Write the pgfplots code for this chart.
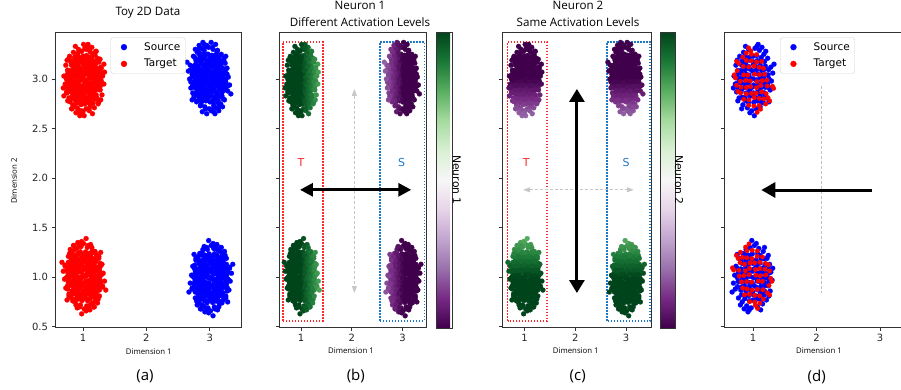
\documentclass[border=0pt]{standalone}
\usepackage{fontspec}
\setmainfont{DejaVu Sans}
\newfontfamily\os{Open Sans}
\usepackage{pgfplots}
\usepackage{pgfplotstable}
\pgfplotsset{compat=1.18}
\usetikzlibrary{arrows.meta}

\pgfplotstableread{
dx dy
0.012 -0.235
-0.008 -0.166
0.004 -0.140
-0.014 -0.082
0.009 -0.060
-0.003 0.003
0.015 0.056
-0.011 0.083
0.006 0.148
-0.006 0.178
0.001 0.231
-0.073 -0.237
-0.050 -0.175
-0.064 -0.126
-0.048 -0.102
-0.069 -0.040
-0.057 0.014
-0.066 0.039
-0.052 0.101
-0.071 0.128
-0.055 0.192
-0.062 0.220
0.068 -0.221
0.047 -0.189
0.072 -0.130
0.055 -0.079
0.063 -0.052
0.049 -0.008
0.074 0.051
0.058 0.097
0.051 0.124
0.066 0.186
0.057 0.238
-0.115 -0.219
-0.131 -0.183
-0.108 -0.142
-0.127 -0.085
-0.119 -0.049
-0.134 0.006
-0.110 0.048
-0.123 0.094
-0.129 0.141
-0.113 0.171
-0.125 0.226
0.124 -0.228
0.109 -0.172
0.133 -0.131
0.116 -0.094
0.128 -0.038
0.111 0.010
0.126 0.042
0.135 0.088
0.114 0.139
0.121 0.184
0.130 0.217
-0.176 -0.186
-0.189 -0.128
-0.171 -0.097
-0.184 -0.041
-0.193 0.004
-0.174 0.052
-0.187 0.086
-0.179 0.139
-0.170 0.183
0.185 -0.176
0.172 -0.139
0.191 -0.083
0.178 -0.047
0.169 0.008
0.188 0.044
0.176 0.097
0.194 0.130
0.181 0.177
-0.236 -0.094
-0.248 -0.041
-0.231 0.007
-0.245 0.049
-0.238 0.087
0.243 -0.086
0.231 -0.049
0.249 0.004
0.236 0.043
0.245 0.095
-0.27 0.14
-0.28 -0.05
-0.30 0.03
-0.26 -0.13
-0.25 0.19
-0.22 -0.19
-0.21 0.23
-0.16 -0.26
-0.15 0.27
-0.09 -0.29
-0.07 0.30
-0.02 -0.32
0.03 0.31
0.05 -0.30
0.10 0.29
0.11 -0.28
0.16 -0.24
0.17 0.25
0.22 -0.19
0.23 0.21
0.27 -0.11
0.28 0.12
0.29 -0.02
0.31 0.06
-0.12 0.33
0.08 0.35
0.02 -0.37
-0.05 -0.34
0.33 0.15
-0.31 -0.09
0.14 0.32
-0.18 -0.30
0.25 -0.23
0.20 0.28
-0.24 -0.22
0.06 0.33
}\offs

\definecolor{tred}{RGB}{255,40,40}
\definecolor{tblue}{RGB}{31,119,200}

\newcommand\tickf{\fontsize{10}{12}\selectfont}
\newcommand\legf{\fontsize{10.5}{12.5}\selectfont}
\newcommand\titf{\os\fontsize{11.6}{14}\selectfont}
\newcommand\labf{\os\fontsize{7.8}{9}\selectfont}
\newcommand\panf{\os\fontsize{15}{18}\selectfont}

\pgfplotsset{
  colormap={PRGn}{rgb255=(64,0,75) rgb255=(118,42,131) rgb255=(153,112,171) rgb255=(194,165,207) rgb255=(231,212,232) rgb255=(247,247,247) rgb255=(217,240,211) rgb255=(166,219,160) rgb255=(90,174,97) rgb255=(27,120,55) rgb255=(0,68,27)},
  panel/.style={scale only axis, height=295pt, ymin=0.497, ymax=3.475,
    xtick={1,2,3}, xticklabels={1,2,3}, ytick={0.5,1,1.5,2,2.5,3},
    tick align=outside, tick pos=left, major tick length=3.5pt,
    tick style={black!80, line width=0.8pt},
    axis line style={black!80, line width=0.8pt},
    ticklabel style={font=\tickf, text=black!85},
    legend style={at={(0.5,0.982)}, anchor=north, font=\legf, draw=black!18, rounded corners=2.5pt,
      inner xsep=3pt, inner ysep=3pt, row sep=3.5pt, nodes={inner sep=2pt}},
    legend cell align=left,
    legend image code/.code={\draw[#1, mark size=3pt] plot coordinates {(0pt,0pt)}; \path (-10pt,0pt) (18pt,0pt);}},
  pt/.style={only marks, mark=*, mark size=2.5pt, mark options={line width=0.2pt}},
  sc/.style={scatter, only marks, mark=*, mark size=2.5pt, point meta=explicit,
    scatter/use mapped color={draw=mapped color, fill=mapped color}, mark options={line width=0.2pt}},
  cb/.style={colormap name=PRGn, point meta min=1.0, point meta max=3.0, colorbar,
    colorbar shift/.style={xshift=#1},
    colorbar style={at={(parent axis.north east)}, anchor=north west, scale only axis, height=296pt,
      ytick=\empty, xtick=\empty, axis line style={black!80, line width=0.8pt}}}
}

\begin{document}
\begin{tikzpicture}[x=1pt,y=1pt]
% ---------------- (a)
\begin{axis}[panel, at={(55pt,62pt)}, anchor=south west, width=186pt, xmin=0.56, xmax=3.49,
  yticklabels={0.5,1.0,1.5,2.0,2.5,3.0}]
\addplot[pt, blue] table[x expr=3+\thisrow{dx}, y expr=3-\thisrow{dy}] {\offs};
\addlegendentry{Source}
\addplot[pt, blue, forget plot] table[x expr=2.97-\thisrow{dx}, y expr=3.02+\thisrow{dy}] {\offs};
\addplot[pt, blue, forget plot] table[x expr=3-\thisrow{dx}, y expr=1-\thisrow{dy}] {\offs};
\addplot[pt, blue, forget plot] table[x expr=3.03+\thisrow{dx}, y expr=0.98+\thisrow{dy}] {\offs};
\addplot[pt, red] table[x expr=1+\thisrow{dx}, y expr=3+\thisrow{dy}] {\offs};
\addlegendentry{Target}
\addplot[pt, red, forget plot] table[x expr=1.03-\thisrow{dx}, y expr=2.98-\thisrow{dy}] {\offs};
\addplot[pt, red, forget plot] table[x expr=1-\thisrow{dx}, y expr=1+\thisrow{dy}] {\offs};
\addplot[pt, red, forget plot] table[x expr=1.03+\thisrow{dx}, y expr=1.02-\thisrow{dy}] {\offs};
\end{axis}
% ---------------- (b)
\begin{axis}[panel, at={(279pt,62pt)}, anchor=south west, width=147pt, xmin=0.567, xmax=3.46,
  yticklabels={}, cb=10pt, colorbar style={width=16pt}]
\addplot[sc] table[x expr=1+\thisrow{dx}, y expr=3+\thisrow{dy}, meta expr=3-\thisrow{dx}] {\offs};
\addplot[sc] table[x expr=1.03-\thisrow{dx}, y expr=2.98-\thisrow{dy}, meta expr=2.97+\thisrow{dx}] {\offs};
\addplot[sc] table[x expr=1-\thisrow{dx}, y expr=1+\thisrow{dy}, meta expr=3+\thisrow{dx}] {\offs};
\addplot[sc] table[x expr=1.03+\thisrow{dx}, y expr=1.02-\thisrow{dy}, meta expr=2.97-\thisrow{dx}] {\offs};
\addplot[sc] table[x expr=3+\thisrow{dx}, y expr=3-\thisrow{dy}, meta expr=1-\thisrow{dx}] {\offs};
\addplot[sc] table[x expr=2.97-\thisrow{dx}, y expr=3.02+\thisrow{dy}, meta expr=1.03+\thisrow{dx}] {\offs};
\addplot[sc] table[x expr=3-\thisrow{dx}, y expr=1-\thisrow{dy}, meta expr=1+\thisrow{dx}] {\offs};
\addplot[sc] table[x expr=3.03+\thisrow{dx}, y expr=0.98+\thisrow{dy}, meta expr=0.97-\thisrow{dx}] {\offs};
\draw[tred, line width=1.6pt, dash pattern=on 1.6pt off 1.4pt] (axis cs:0.64,0.559) rectangle (axis cs:1.427,3.374);
\draw[tblue, line width=1.6pt, dash pattern=on 1.6pt off 1.4pt] (axis cs:2.555,0.559) rectangle (axis cs:3.427,3.374);
\draw[black!22, line width=0.9pt, dash pattern=on 3pt off 2pt, {Triangle[length=7pt,width=5pt]}-{Triangle[length=7pt,width=5pt]}] (axis cs:2.05,2.9) -- (axis cs:2.05,0.84);
\draw[black, line width=3pt, {Triangle[length=13pt,width=13pt]}-{Triangle[length=13pt,width=13pt]}] (axis cs:0.98,1.882) -- (axis cs:3.17,1.882);
\node[text=tred, font=\fontsize{11}{13}\selectfont] at (axis cs:1.0,2.16) {T};
\node[text=tblue, font=\fontsize{11}{13}\selectfont] at (axis cs:2.98,2.16) {S};
\end{axis}
% ---------------- (c)
\begin{axis}[panel, at={(502pt,62pt)}, anchor=south west, width=149pt, xmin=0.554, xmax=3.49,
  yticklabels={}, cb=9.3pt, colorbar style={width=15pt}]
\addplot[sc] table[x expr=1+\thisrow{dx}, y expr=3+\thisrow{dy}, meta expr=1-\thisrow{dy}] {\offs};
\addplot[sc] table[x expr=1.03-\thisrow{dx}, y expr=2.98-\thisrow{dy}, meta expr=1.02+\thisrow{dy}] {\offs};
\addplot[sc] table[x expr=1-\thisrow{dx}, y expr=1+\thisrow{dy}, meta expr=3-\thisrow{dy}] {\offs};
\addplot[sc] table[x expr=1.03+\thisrow{dx}, y expr=1.02-\thisrow{dy}, meta expr=2.98+\thisrow{dy}] {\offs};
\addplot[sc] table[x expr=3+\thisrow{dx}, y expr=3-\thisrow{dy}, meta expr=1+\thisrow{dy}] {\offs};
\addplot[sc] table[x expr=2.97-\thisrow{dx}, y expr=3.02+\thisrow{dy}, meta expr=0.98-\thisrow{dy}] {\offs};
\addplot[sc] table[x expr=3-\thisrow{dx}, y expr=1-\thisrow{dy}, meta expr=3+\thisrow{dy}] {\offs};
\addplot[sc] table[x expr=3.03+\thisrow{dx}, y expr=0.98+\thisrow{dy}, meta expr=3.02-\thisrow{dy}] {\offs};
\draw[tred, line width=1.6pt, dash pattern=on 1.6pt off 1.4pt] (axis cs:0.664,0.559) rectangle (axis cs:1.442,3.374);
\draw[tblue, line width=1.6pt, dash pattern=on 1.6pt off 1.4pt] (axis cs:2.618,0.559) rectangle (axis cs:3.475,3.374);
\draw[black!22, line width=0.9pt, dash pattern=on 3pt off 2pt, {Triangle[length=7pt,width=5pt]}-{Triangle[length=7pt,width=5pt]}] (axis cs:0.97,1.882) -- (axis cs:3.15,1.882);
\draw[black, line width=3pt, {Triangle[length=13pt,width=15pt]}-{Triangle[length=13pt,width=15pt]}] (axis cs:2.03,2.9) -- (axis cs:2.03,0.84);
\node[text=tred, font=\fontsize{11}{13}\selectfont] at (axis cs:1.03,2.16) {T};
\node[text=tblue, font=\fontsize{11}{13}\selectfont] at (axis cs:3.0,2.16) {S};
\end{axis}
% ---------------- (d)
\begin{axis}[panel, at={(724pt,62pt)}, anchor=south west, width=187pt, xmin=0.542, xmax=3.49,
  yticklabels={}]
\addplot[pt, blue, mark size=2.5pt] table[x expr=1+\thisrow{dx}, y expr=3+\thisrow{dy}] {\offs};
\addlegendentry{Source}
\addplot[pt, blue, mark size=2.5pt, forget plot] table[x expr=1-\thisrow{dx}, y expr=1-\thisrow{dy}] {\offs};
\addplot[pt, red, mark size=2.3pt, each nth point=2] table[x expr=1.01+0.9*\thisrow{dy}, y expr=2.99-1.05*\thisrow{dx}] {\offs};
\addlegendentry{Target}
\addplot[pt, red, mark size=2.3pt, each nth point=2, forget plot] table[x expr=0.99-0.9*\thisrow{dy}, y expr=1.01+1.05*\thisrow{dx}] {\offs};
\draw[black!25, line width=0.7pt, dash pattern=on 3pt off 2pt] (axis cs:2.07,2.93) -- (axis cs:2.07,0.845);
\draw[black, line width=3pt, -{Triangle[length=14pt,width=15pt]}] (axis cs:2.88,1.88) -- (axis cs:1.13,1.88);
\end{axis}
% ---------------- texts
\node[font=\titf, anchor=base] at (148pt,373.3pt) {Toy 2D Data};
\node[font=\titf, anchor=base] at (360pt,379pt) {Neuron 1};
\node[font=\titf, anchor=base] at (360pt,362.3pt) {Different Activation Levels};
\node[font=\titf, anchor=base] at (578pt,379pt) {Neuron 2};
\node[font=\titf, anchor=base] at (578pt,362.3pt) {Same Activation Levels};
\node[font=\labf] at (148.8pt,37.3pt) {Dimension 1};
\node[font=\labf] at (351pt,38.3pt) {Dimension 1};
\node[font=\labf] at (575.8pt,38pt) {Dimension 1};
\node[font=\labf] at (819pt,38pt) {Dimension 1};
\node[font=\labf, rotate=90] at (14pt,208pt) {Dimension 2};
\node[font=\fontsize{10.8}{13}\selectfont, rotate=-90] at (456.7pt,209pt) {Neuron 1};
\node[font=\fontsize{10.8}{13}\selectfont, rotate=-90] at (679pt,209pt) {Neuron 2};
\node[font=\panf] at (145pt,12.7pt) {(a)};
\node[font=\panf] at (355.8pt,13.2pt) {(b)};
\node[font=\panf] at (577.7pt,12.3pt) {(c)};
\node[font=\panf] at (816.7pt,12.3pt) {(d)};
\pgfresetboundingbox
\path[use as bounding box] (0pt,0pt) rectangle (901pt,389pt);
\end{tikzpicture}
\end{document}
